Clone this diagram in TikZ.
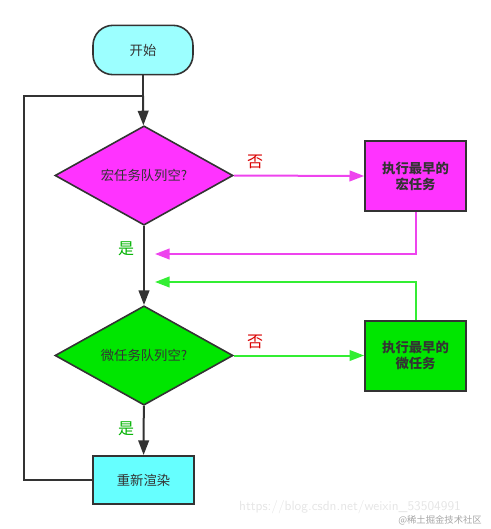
\documentclass[tikz,border=0pt]{standalone}
\usepackage{fontspec}
\setmainfont{Noto Sans CJK SC}
\usetikzlibrary{shapes.geometric,arrows.meta}
\definecolor{startcyan}{HTML}{9CFFFF}
\definecolor{rendercyan}{HTML}{66FFFF}
\definecolor{macropink}{HTML}{FF33FF}
\definecolor{micrograss}{HTML}{00E600}
\definecolor{linepink}{HTML}{EE44EE}
\definecolor{linegrass}{HTML}{33EE33}
\definecolor{ink}{HTML}{333333}
\tikzset{
  flowline/.style={draw=ink, line width=1.5pt},
  tip/.style={-{Triangle[length=11pt,width=8pt]}},
  decide/.style={diamond, draw=ink, line width=1.2pt, inner sep=0pt, aspect=1.8,
    minimum width=133.5pt, minimum height=74.5pt, text=ink, font=\normalsize},
  taskbox/.style={draw=ink, line width=1.5pt, minimum width=75.5pt, minimum height=52.5pt,
    align=center, text=ink, font=\normalsize\bfseries},
  answer/.style={font=\large}
}
\begin{document}
\begin{tikzpicture}[x=0.75pt,y=-0.75pt]
\useasboundingbox (0,0) rectangle (491,529);
\node[draw=ink, line width=1.2pt, fill=startcyan, rounded corners=15pt, minimum width=75pt,
  minimum height=37pt, text=ink, font=\normalsize] (start) at (143,50) {开始};
\node[decide, fill=macropink] (macro) at (144,175.5) {宏任务队列空?};
\node[taskbox, fill=macropink] (runmacro) at (415.5,176) {执行最早的\\宏任务};
\node[decide, fill=micrograss] (micro) at (144,355.5) {微任务队列空?};
\node[taskbox, fill=micrograss] (runmicro) at (415.5,355.5) {执行最早的\\微任务};
\node[draw=ink, line width=1.5pt, fill=rendercyan, minimum width=75.5pt, minimum height=36pt,
  text=ink, font=\normalsize] (render) at (143.5,480) {重新渲染};
\coordinate (join) at (143,96);
\coordinate (backmacro) at (155,254);
\coordinate (backmicro) at (155,282);
% labels
\node[answer, text=red!85!black] (nomacro) at (255,162) {否};
\node[answer, text=green!70!black] (yesmacro) at (126,249) {是};
\node[answer, text=red!85!black] (nomicro) at (255,342) {否};
\node[answer, text=green!70!black] (yesmicro) at (126,429) {是};
% main flow
\draw[flowline] (start) -- (join);
\draw[flowline, tip] (join) -- (macro);
\draw[flowline, tip] (macro) -- (micro);
\draw[flowline, tip] (micro) -- (render);
\draw[flowline] (render.west) -- ++(-68,0) |- (join);
% macro task branch
\draw[linepink, line width=1.5pt, tip] (macro.east) -- (runmacro.west);
\draw[linepink, line width=1.5pt, tip] (runmacro.south) |- (backmacro);
% micro task branch
\draw[linegrass, line width=1.5pt, tip] (micro.east) -- (runmicro.west);
\draw[linegrass, line width=1.5pt, tip] (runmicro.north) |- (backmicro);
% watermark
\node[text=black!10, font=\normalsize\sffamily] (urlmark) at (350,507) {https://blog.csdn.net/weixin\_53504991};
\node[text=black!35, font=\scriptsize] (juejin) at (440,520) {@稀土掘金技术社区};
\end{tikzpicture}
\end{document}
